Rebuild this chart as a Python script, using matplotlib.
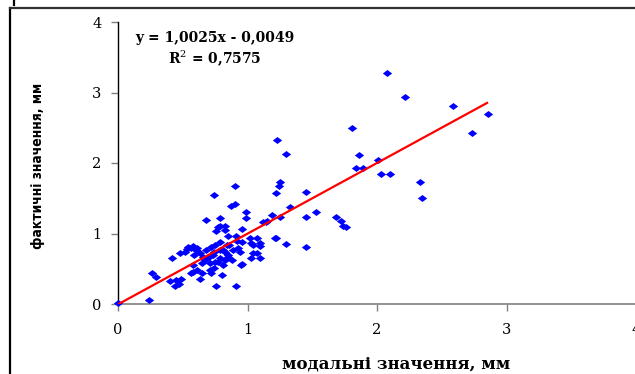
import matplotlib
matplotlib.use("Agg")
import matplotlib.pyplot as plt
import numpy as np
from matplotlib.lines import Line2D

# ---- data ----
x_vals = [0.00, 0.24, 0.26, 0.29, 0.40, 0.44, 0.45, 0.49, 0.47, 0.42,
          0.48, 0.52, 0.53, 0.56, 0.54, 0.58, 0.61, 0.60, 0.59, 0.63,
          0.66, 0.68, 0.72, 0.75, 0.79, 0.67, 0.71, 0.75, 0.79, 0.83,
          0.61, 0.65, 0.58, 0.71, 0.74, 0.80, 0.63, 0.58, 0.56, 0.76,
          0.91, 0.85, 0.81, 0.84, 0.79, 0.83, 0.76, 0.955, 1.07, 1.10,
          1.02, 1.03, 1.21, 0.86, 0.92, 0.93, 0.94, 0.74, 0.79, 0.83,
          0.85, 0.89, 1.04, 1.10, 1.03, 0.77, 0.81, 0.88, 0.95, 0.72,
          0.85, 0.91, 0.96, 1.04, 1.10, 1.07, 0.68, 0.79, 0.83, 0.77,
          0.74, 0.87, 0.90, 0.99, 0.99, 0.90, 1.14, 1.12, 1.15, 1.19,
          1.25, 1.22, 1.24, 1.25, 1.23, 1.30, 1.33, 1.45, 1.45, 1.53,
          1.22, 1.30, 1.45, 1.68, 1.72, 1.74, 1.76, 1.81, 1.86, 1.84,
          1.89, 2.01, 2.03, 2.10, 2.08, 2.22, 2.33, 2.35, 2.59, 2.73,
          2.86, 0.96, 0.65, 0.70, 0.73]
y_vals = [0.01, 0.06, 0.44, 0.38, 0.32, 0.26, 0.34, 0.36, 0.29, 0.65,
          0.72, 0.74, 0.78, 0.79, 0.81, 0.82, 0.79, 0.77, 0.70, 0.72,
          0.67, 0.77, 0.81, 0.84, 0.88, 0.62, 0.58, 0.60, 0.65, 0.62,
          0.48, 0.44, 0.55, 0.48, 0.51, 0.41, 0.36, 0.46, 0.44, 0.26,
          0.26, 0.67, 0.77, 0.84, 1.10, 1.05, 1.03, 1.07, 0.93, 0.86,
          0.93, 0.86, 0.93, 0.84, 0.89, 0.79, 0.74, 0.74, 0.77, 0.74,
          0.70, 0.77, 0.72, 0.65, 0.65, 0.60, 0.55, 0.62, 0.55, 0.44,
          0.96, 0.96, 0.88, 0.84, 0.82, 0.72, 1.19, 1.22, 1.11, 1.09,
          1.55, 1.39, 1.42, 1.30, 1.22, 1.68, 1.17, 1.16, 1.18, 1.26,
          1.23, 1.58, 1.67, 1.73, 2.33, 2.13, 1.37, 1.59, 1.23, 1.30,
          0.93, 0.85, 0.81, 1.23, 1.18, 1.11, 1.09, 2.50, 2.11, 1.93,
          1.93, 2.04, 1.84, 1.84, 3.28, 2.94, 1.73, 1.50, 2.81, 2.43,
          2.70, 0.57, 0.58, 0.66, 0.70]

slope = 1.0025
intercept = -0.0049
r2 = 0.7575
line_x = [0.0, 2.85]

x_ticks = [0, 1, 2, 3, 4]
y_ticks = [0, 1, 2, 3, 4]
x_label = "модальні значення, мм"
y_label = "фактичні значення, мм"
eq_text = "y = 1,0025x - 0,0049"
r2_text = "R$^2$ = 0,7575"

# ---- figure ----
W, H = 635, 374
fig = plt.figure(figsize=(W / 100, H / 100), dpi=100)
fig.patch.set_facecolor("white")
plt.rcParams["mathtext.fontset"] = "dejavuserif"

ax = fig.add_axes([118 / W, (H - 304) / H, 518 / W, 282 / H])
ax.set_xlim(0, 4)
ax.set_ylim(0, 4)

diamond = [(-1, 0), (0, 0.75), (1, 0), (0, -0.75), (-1, 0)]
ax.scatter(x_vals, y_vals, marker=diamond, s=45, color="#0000ff",
           linewidths=0, zorder=3, clip_on=False)

lx = np.array(line_x)
ax.plot(lx, slope * lx + intercept, color="#ff0000", lw=1.6, zorder=4)

for s in ["top", "right"]:
    ax.spines[s].set_visible(False)
ax.spines["left"].set_color("#000000")
ax.spines["left"].set_linewidth(1.0)
ax.spines["bottom"].set_color("#808080")
ax.spines["bottom"].set_linewidth(1.2)

ax.set_xticks(x_ticks)
ax.set_yticks(y_ticks)
ax.set_xticklabels([str(t) for t in x_ticks])
ax.set_yticklabels([str(t) for t in y_ticks])
ax.tick_params(axis="both", direction="out", length=5, width=1.0,
               color="#808080", labelsize=10.5, pad=7)
ax.tick_params(axis="x", pad=9)
for lab in ax.get_xticklabels() + ax.get_yticklabels():
    lab.set_fontfamily("DejaVu Serif")

fig.text(396 / W, 1 - 364 / H, x_label, ha="center", va="center",
         fontsize=12, fontweight="bold", family="DejaVu Serif")
fig.text(38 / W, 1 - 166 / H, y_label, ha="center", va="center",
         rotation=90, fontsize=10, fontweight="bold",
         fontstretch="condensed", family="DejaVu Sans")

fig.text(215 / W, 1 - 38 / H, eq_text, ha="center", va="center",
         fontsize=10, fontweight="bold", family="DejaVu Serif")
fig.text(215 / W, 1 - 58 / H, r2_text, ha="center", va="center",
         fontsize=10, fontweight="bold", family="DejaVu Serif")

# outer frame
fig.add_artist(Line2D([10 / W, 10 / W], [0, 1 - 8 / H], color="#000000",
                      lw=1.6, transform=fig.transFigure))
fig.add_artist(Line2D([10 / W, 1], [1 - 8 / H, 1 - 8 / H], color="#303030",
                      lw=1.6, transform=fig.transFigure))
fig.add_artist(Line2D([14 / W, 14 / W], [1 - 5 / H, 1], color="#000000",
                      lw=1.6, transform=fig.transFigure))

fig.savefig("out.png", dpi=100, facecolor="white")
